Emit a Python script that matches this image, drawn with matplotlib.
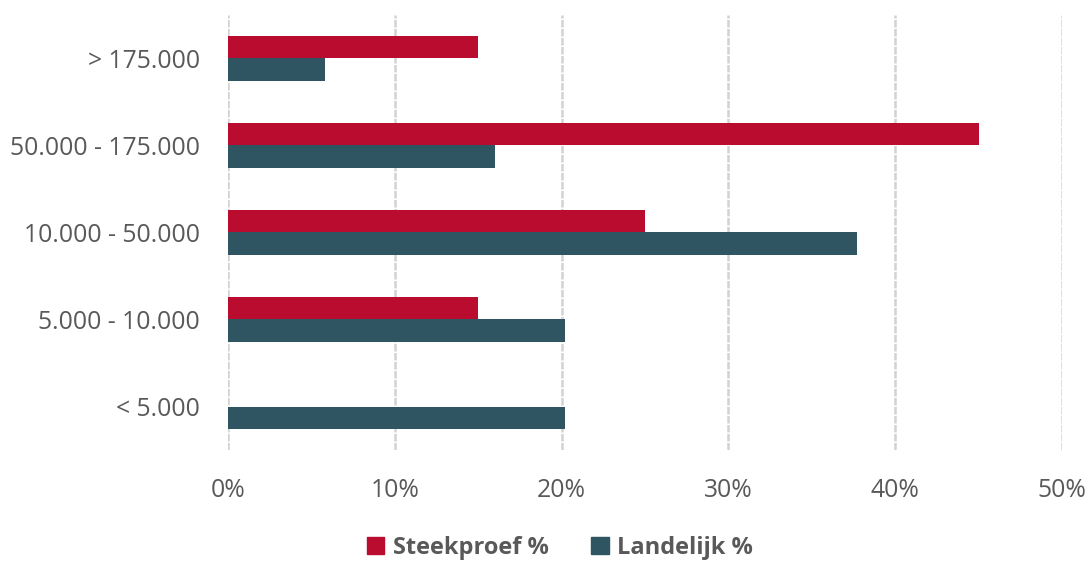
import matplotlib
matplotlib.use("Agg")
import matplotlib.pyplot as plt
import numpy as np
from matplotlib.patches import Patch

categories = ["< 5.000", "5.000 - 10.000", "10.000 - 50.000", "50.000 - 175.000", "> 175.000"]
steekproef = [0, 15, 25, 45, 15]
landelijk = [20.2, 20.2, 37.7, 16.0, 5.8]
xticks = [0, 10, 20, 30, 40, 50]

RED = "#B90C2F"
TEAL = "#2F5563"
TEXT = "#595959"

plt.rcParams["font.family"] = ["Open Sans", "DejaVu Sans"]

fig = plt.figure(figsize=(10.91, 5.63), dpi=100)
ax = fig.add_axes([0.209, 0.2007, 0.7644, 0.7727])

y = np.arange(len(categories))
h = 0.26
ax.barh(y + h / 2, steekproef, height=h, color=RED, zorder=3)
ax.barh(y - h / 2, landelijk, height=h, color=TEAL, zorder=3)

ax.set_xlim(0, 50)
ax.set_ylim(-0.5, len(categories) - 0.5)
ax.set_xticks(xticks)
ax.set_xticklabels([f"{t}%" for t in xticks])
ax.set_yticks(y)
ax.set_yticklabels(categories)
ax.tick_params(length=0, labelsize=17.8, labelcolor=TEXT)
ax.tick_params(axis="x", pad=20)
ax.tick_params(axis="y", pad=20)
ax.xaxis.grid(True, color="#d2d2d2", linestyle=(0, (3, 0.6)), linewidth=1.8, zorder=0)
for s in ax.spines.values():
    s.set_visible(False)

handles = [Patch(color=RED, label="Steekproef %"), Patch(color=TEAL, label="Landelijk %")]
fig.legend(handles=handles, loc="center", bbox_to_anchor=(0.513, 0.027), ncol=2,
           frameon=False, handlelength=0.75, handleheight=0.75, handletextpad=0.35,
           columnspacing=1.8, prop={"size": 17, "weight": "bold"}, labelcolor=TEXT)

fig.savefig("out.png", dpi=100)
